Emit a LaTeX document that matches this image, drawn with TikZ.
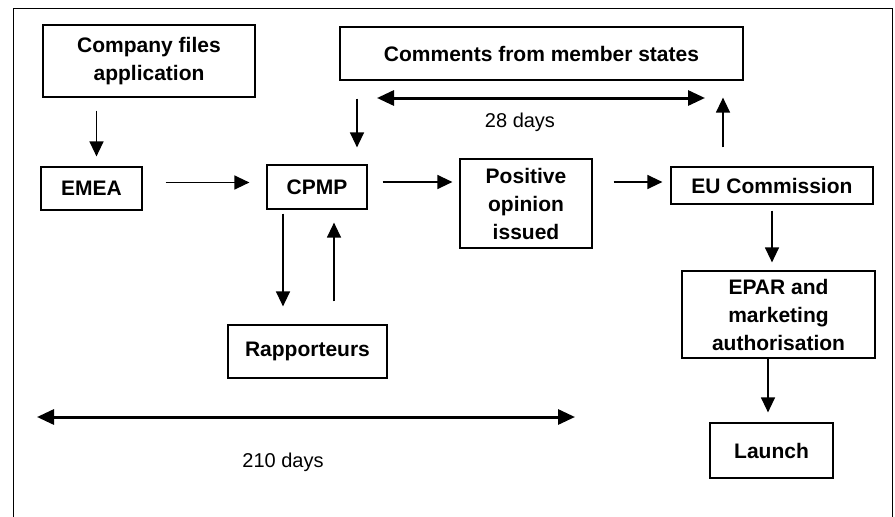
\documentclass[tikz,border=0pt]{standalone}
\usepackage{fontspec}
\setmainfont{Liberation Sans}
\usetikzlibrary{arrows.meta}
\tikzset{kasten/.style={draw,line width=1.2pt,font=\bfseries\fontsize{21}{28}\selectfont,align=center,inner sep=0pt},
         pfeil/.style={-{Triangle[length=15pt,width=14pt]},line width=1.3pt},
         dauer/.style={{Triangle[length=17pt,width=15pt]}-{Triangle[length=17pt,width=15pt]},line width=3pt},
         tage/.style={font=\fontsize{20}{24}\selectfont}}

\begin{document}
\begin{tikzpicture}[x=1pt,y=-1pt]
    \useasboundingbox (0,0) rectangle (895,517);
    \draw [line width=0.8pt] (13,8) rectangle (892,520);

    \path node [kasten, minimum width=212pt, minimum height=72pt] (company) at (149,61) {Company files\\application}
          node [kasten, minimum width=403pt, minimum height=53pt] (comments) at (541.5,53.5) {Comments from member states}
          node [kasten, minimum width=101pt, minimum height=43pt] (emea) at (91.5,188.5) {EMEA}
          node [kasten, minimum width=100pt, minimum height=44pt] (cpmp) at (317,187) {CPMP}
          node [kasten, minimum width=132pt, minimum height=89pt] (positive) at (526,203.5) {Positive\\opinion\\issued}
          node [kasten, minimum width=202pt, minimum height=37pt] (eu) at (772,185.5) {EU Commission}
          node [kasten, minimum width=159pt, minimum height=53pt] (rapp) at (307.5,351.5) {Rapporteurs}
          node [kasten, minimum width=193pt, minimum height=87pt] (epar) at (778.5,314.5) {EPAR and\\marketing\\authorisation}
          node [kasten, minimum width=123pt, minimum height=55pt] (launch) at (771.5,450.5) {Launch}
          node [tage] (tage28) at (520,122) {28 days}
          node [tage] (tage210) at (283,462) {210 days};

    \coordinate (a28) at (377,98);
    \coordinate (b28) at (705,98);
    \coordinate (a210) at (37,417);
    \coordinate (b210) at (575,417);

    \draw [pfeil, shorten <=13pt, shorten >=10pt] ([xshift=5pt]company.south -| emea.north) -- ([xshift=5pt]emea.north);
    \draw [pfeil, shorten <=18pt, shorten >=17pt] ([xshift=40pt]comments.south -| cpmp.north) -- ([xshift=40pt]cpmp.north);
    \draw [pfeil, shorten <=19pt, shorten >=17pt] ([xshift=-49pt]eu.north) -- ([xshift=-49pt]eu.north |- comments.south);
    \draw [pfeil, shorten <=23pt, shorten >=17pt] ([yshift=6pt]emea.east) -- ([yshift=6pt]emea.east -| cpmp.west);
    \draw [pfeil, shorten <=15pt, shorten >=7pt] ([yshift=5pt]cpmp.east) -- ([yshift=5pt]cpmp.east -| positive.west);
    \draw [pfeil, shorten <=21pt, shorten >=8pt] ([yshift=3.5pt]eu.west -| positive.east) -- ([yshift=3.5pt]eu.west);
    \draw [pfeil, shorten <=4pt, shorten >=18pt] ([xshift=-34pt]cpmp.south) -- ([xshift=-34pt]cpmp.south |- rapp.north);
    \draw [pfeil, shorten <=23pt, shorten >=13pt] ([xshift=17pt]cpmp.south |- rapp.north) -- ([xshift=17pt]cpmp.south);
    \draw [pfeil, shorten <=6pt, shorten >=8pt] (eu.south) -- (eu.south |- epar.north);
    \draw [pfeil, shorten >=10pt] ([xshift=-3.5pt]launch.north |- epar.south) -- ([xshift=-3.5pt]launch.north);

    \draw [dauer] (a28) -- (b28);
    \draw [dauer] (a210) -- (b210);
\end{tikzpicture}
\end{document}
